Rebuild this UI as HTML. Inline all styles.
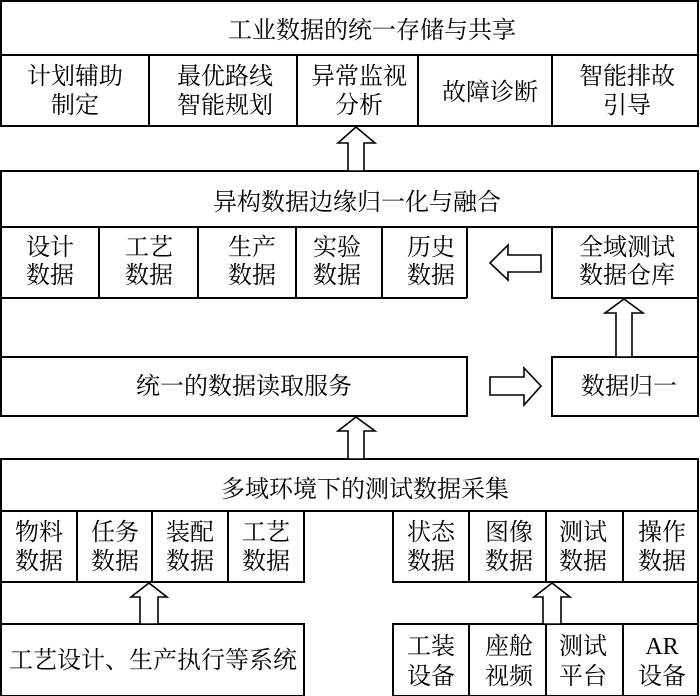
<!DOCTYPE html>
<html><head><meta charset="utf-8"><style>
html,body{margin:0;padding:0;background:#fff}
svg{display:block}
text{font-family:"Liberation Serif","Noto Serif CJK SC",serif;font-size:24px;fill:#000;text-anchor:middle}
</style></head><body>
<svg width="700" height="696" viewBox="0 0 700 696" xmlns="http://www.w3.org/2000/svg">
<g fill="none" stroke="#000" stroke-width="2">
<rect x="1" y="1" width="697" height="125"/>
<line x1="1" y1="55" x2="698" y2="55"/>
<line x1="149" y1="55" x2="149" y2="126"/>
<line x1="297" y1="55" x2="297" y2="126"/>
<line x1="418" y1="55" x2="418" y2="126"/>
<line x1="552" y1="55" x2="552" y2="126"/>
<path d="M1 416 V171 H698 V416"/>
<line x1="1" y1="227" x2="698" y2="227"/>
<path d="M1 298 H467"/>
<line x1="467" y1="227" x2="467" y2="298"/>
<line x1="99" y1="227" x2="99" y2="298"/>
<line x1="198" y1="227" x2="198" y2="298"/>
<line x1="296" y1="227" x2="296" y2="298"/>
<line x1="382" y1="227" x2="382" y2="298"/>
<rect x="552" y="227" width="146" height="71"/>
<rect x="1" y="357" width="466" height="59"/>
<rect x="552" y="357" width="146" height="59"/>
<path d="M1 696 V459 H698 V696"/>
<line x1="1" y1="511" x2="698" y2="511"/>
<rect x="1" y="511" width="303" height="71"/>
<line x1="77" y1="511" x2="77" y2="582"/>
<line x1="152" y1="511" x2="152" y2="582"/>
<line x1="228" y1="511" x2="228" y2="582"/>
<rect x="393" y="511" width="305" height="71"/>
<line x1="469" y1="511" x2="469" y2="582"/>
<line x1="546" y1="511" x2="546" y2="582"/>
<line x1="623" y1="511" x2="623" y2="582"/>
<rect x="1" y="624" width="303" height="72"/>
<rect x="393" y="624" width="305" height="72"/>
<line x1="469" y1="624" x2="469" y2="696"/>
<line x1="546" y1="624" x2="546" y2="696"/>
<line x1="623" y1="624" x2="623" y2="696"/>
</g>
<g fill="#fff" stroke="#000" stroke-width="1.6">
<path d="M348 171 V143 H338 L356 127 L375 143 H364 V171 Z"/>
<path d="M348 459 V431 H338 L356 417 L375 431 H364 V459 Z"/>
<path d="M616 357 V313 H605 L624 299 L643 313 H632 V357 Z"/>
<path d="M541 255 V272 H508 V280 L490 263 L508 245 V255 Z"/>
<path d="M490 377 V395 H524 V405 L541 386 L524 368 V377 Z"/>
<path d="M140 624 V597 H131 L149 583 L167 597 H158 V624 Z"/>
<path d="M543 624 V597 H534 L552 583 L570 597 H561 V624 Z"/>
</g>
<text x="372" y="38">工业数据的统一存储与共享</text>
<text x="75" y="84">计划辅助</text><text x="75" y="113">制定</text>
<text x="225" y="84">最优路线</text><text x="225" y="113">智能规划</text>
<text x="359" y="84">异常监视</text><text x="359" y="113">分析</text>
<text x="490" y="100">故障诊断</text>
<text x="627" y="84">智能排故</text><text x="627" y="113">引导</text>
<text x="357" y="210">异构数据边缘归一化与融合</text>
<text x="50" y="255">设计</text><text x="50" y="283">数据</text>
<text x="149" y="255">工艺</text><text x="149" y="283">数据</text>
<text x="252" y="255">生产</text><text x="252" y="283">数据</text>
<text x="337" y="255">实验</text><text x="337" y="283">数据</text>
<text x="431" y="255">历史</text><text x="431" y="283">数据</text>
<text x="627" y="255">全域测试</text><text x="627" y="283">数据仓库</text>
<text x="244" y="394">统一的数据读取服务</text>
<text x="629" y="394">数据归一</text>
<text x="365" y="497">多域环境下的测试数据采集</text>
<text x="39" y="540">物料</text><text x="39" y="569">数据</text>
<text x="115" y="540">任务</text><text x="115" y="569">数据</text>
<text x="190" y="540">装配</text><text x="190" y="569">数据</text>
<text x="266" y="540">工艺</text><text x="266" y="569">数据</text>
<text x="431" y="540">状态</text><text x="431" y="569">数据</text>
<text x="509" y="540">图像</text><text x="509" y="569">数据</text>
<text x="583" y="540">测试</text><text x="583" y="569">数据</text>
<text x="662" y="540">操作</text><text x="662" y="569">数据</text>
<text x="153" y="668">工艺设计、生产执行等系统</text>
<text x="431" y="654">工装</text><text x="431" y="684">设备</text>
<text x="509" y="654">座舱</text><text x="509" y="684">视频</text>
<text x="583" y="654">测试</text><text x="583" y="684">平台</text>
<text x="662" y="654">AR</text><text x="662" y="684">设备</text>
</svg>
</body></html>
